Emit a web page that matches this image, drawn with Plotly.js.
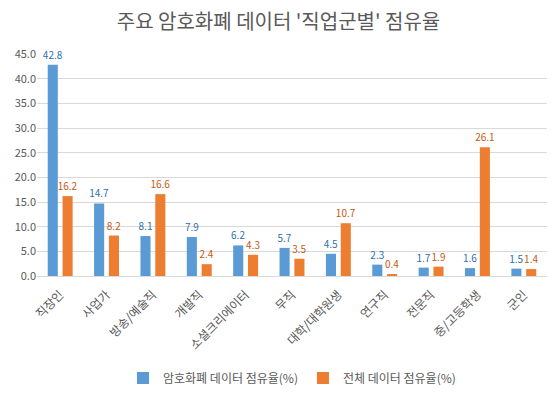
<!DOCTYPE html>
<html><head><meta charset="utf-8">
<script src="https://cdn.plot.ly/plotly-3.0.1.min.js"></script>
<style>html,body{margin:0;padding:0;background:#fff;}</style>
</head><body>
<div id="chart" style="width:557px;height:393px;"></div>
<script>
const categories = ['직장인','사업가','방송/예술직','개발직','소셜크리에이터','무직','대학/대학원생','연구직','전문직','중/고등학생','군인'];
const cryptoShare = [42.8,14.7,8.1,7.9,6.2,5.7,4.5,2.3,1.7,1.6,1.5];
const totalShare = [16.2,8.2,16.6,2.4,4.3,3.5,10.7,0.4,1.9,26.1,1.4];
const seriesNames = ['암호화폐 데이터 점유율(%)','전체 데이터 점유율(%)'];
const yTicks = [0,5,10,15,20,25,30,35,40,45];

const font = "'Noto Sans CJK KR', 'Noto Sans', sans-serif";
const data = [
  {type:'bar', x:categories, y:cryptoShare, name:seriesNames[0],
   marker:{color:'#5b9bd5'}, text:cryptoShare.map(v=>v.toFixed(1)),
   textposition:'outside', cliponaxis:false, constraintext:'none',
   textfont:{color:'#2e6fb0', size:10, family:font}},
  {type:'bar', x:categories, y:totalShare, name:seriesNames[1],
   marker:{color:'#ed7d31'}, text:totalShare.map(v=>v.toFixed(1)),
   textposition:'outside', cliponaxis:false, constraintext:'none',
   textfont:{color:'#c55a11', size:10, family:font}}
];
const layout = {
  width:557, height:393,
  margin:{l:37, r:10, t:54, b:117, autoexpand:false},
  paper_bgcolor:'#fff', plot_bgcolor:'#fff',
  font:{family:font, color:'#595959', size:11},
  title:{text:"주요 암호화폐 데이터 '직업군별' 점유율", x:0.5, xanchor:'center', y:0.945, yanchor:'middle',
         font:{size:20, color:'#595959', family:font}},
  barmode:'group', bargap:0.36, bargroupgap:0.32,
  xaxis:{tickangle:-45, tickfont:{size:12, color:'#595959', family:font}, ticklabelstandoff:6,
         showline:true, linecolor:'#d9d9d9', linewidth:1, ticks:'', showgrid:false, automargin:false},
  yaxis:{range:[0,45], tickvals:yTicks, ticktext:yTicks.map(v=>v.toFixed(1)),
         showgrid:true, gridcolor:'#d9d9d9', zeroline:false, showline:false, automargin:false,
         tickfont:{size:11, color:'#595959', family:font}, ticks:''},
  legend:{orientation:'h', x:0.5, xanchor:'center', yref:'container', y:0.038, yanchor:'middle',
          font:{size:12, color:'#595959', family:font}, itemwidth:30, tracegroupgap:0},
  showlegend:true
};
Plotly.newPlot('chart', data, layout, {displayModeBar:false, staticPlot:true});
</script>
</body></html>
